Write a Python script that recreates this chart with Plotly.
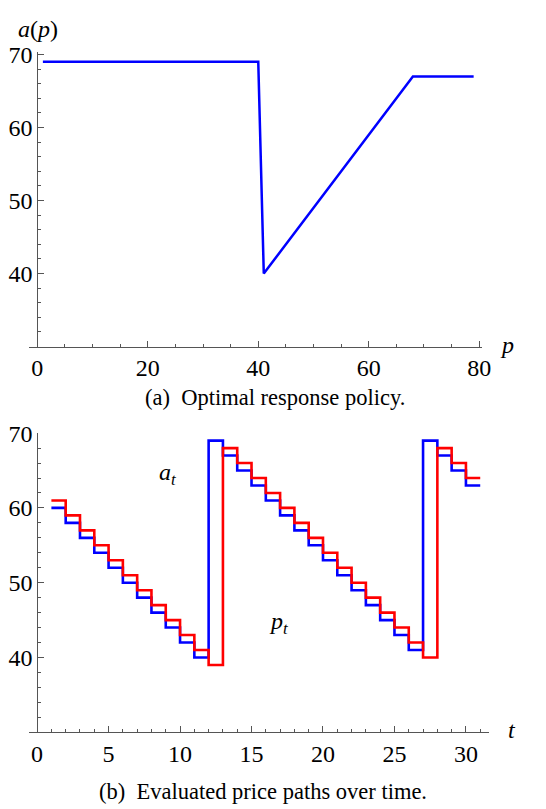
import plotly.graph_objects as go

# Panel (a): optimal response policy
p_vals = [1, 40, 41, 68, 79]
a_vals = [69, 69, 40, 67, 67]

# Panel (b): price paths over time (step functions, value held from t to t+1)
t_vals = list(range(1, 32))
a_t = [60, 58, 56, 54, 52, 50, 48, 46, 44, 42, 40, 69, 67, 65, 63, 61, 59, 57, 55, 53,
       51, 49, 47, 45, 43, 41, 69, 67, 65, 63, 63]
p_t = [61, 59, 57, 55, 53, 51, 49, 47, 45, 43, 41, 39, 68, 66, 64, 62, 60, 58, 56, 54,
       52, 50, 48, 46, 44, 42, 40, 68, 66, 64, 64]

xa_ticks = [0, 20, 40, 60, 80]
ya_ticks = [40, 50, 60, 70]
xb_ticks = [0, 5, 10, 15, 20, 25, 30]
yb_ticks = [40, 50, 60, 70]

W, H = 546, 809
FONT = "Liberation Serif, Times New Roman, serif"
AX = "#555555"

fig = go.Figure()
fig.add_trace(go.Scatter(x=p_vals, y=a_vals, mode="lines",
                         line=dict(color="#0000FF", width=2.5),
                         xaxis="x", yaxis="y", showlegend=False))
fig.add_trace(go.Scatter(x=t_vals, y=a_t, mode="lines", line_shape="hv",
                         line=dict(color="#0000FF", width=2.6),
                         xaxis="x2", yaxis="y2", showlegend=False))
fig.add_trace(go.Scatter(x=t_vals, y=p_t, mode="lines", line_shape="hv",
                         line=dict(color="#FF0000", width=2.6),
                         xaxis="x2", yaxis="y2", showlegend=False))

def px_x(px):
    return px / W

def px_y(py):
    return 1 - py / H

common_axis = dict(showline=True, linecolor=AX, linewidth=1, showgrid=False,
                   zeroline=False, ticks="inside", ticklen=6, tickcolor=AX,
                   tickfont=dict(family=FONT, size=24, color="black"), mirror=False)

fig.update_layout(
    width=W, height=H, margin=dict(l=0, r=0, t=0, b=0),
    paper_bgcolor="white", plot_bgcolor="white",
    xaxis=dict(domain=[px_x(29), px_x(490)], range=[-1.6, 80.5], anchor="y",
               tickvals=xa_ticks, minor=dict(dtick=5, tick0=0, ticks="inside", ticklen=3, tickcolor=AX),
               **common_axis),
    yaxis=dict(domain=[px_y(339), px_y(40)], range=[30, 70.3], anchor="free",
               position=px_x(38), tickvals=ya_ticks,
               minor=dict(dtick=2, tick0=0, ticks="inside", ticklen=3, tickcolor=AX),
               **common_axis),
    xaxis2=dict(domain=[px_x(29), px_x(497)], range=[-0.6, 31.6], anchor="y2",
                tickvals=xb_ticks, minor=dict(dtick=1, tick0=0, ticks="inside", ticklen=3, tickcolor=AX),
                **common_axis),
    yaxis2=dict(domain=[px_y(731), px_y(427)], range=[30, 70.0], anchor="free",
                position=px_x(38), tickvals=yb_ticks,
                minor=dict(dtick=2, tick0=0, ticks="inside", ticklen=3, tickcolor=AX),
                **common_axis),
)

ann_font = dict(family=FONT, size=24, color="black")

def ann(text, x, y, xref="paper", yref="paper", font=ann_font):
    fig.add_annotation(text=text, xref=xref, yref=yref, x=x, y=y, showarrow=False,
                       xanchor="center", yanchor="middle", font=font)

ann("<i>a</i>(<i>p</i>)", px_x(39), px_y(16))
ann("<i>p</i>", px_x(515), px_y(337))
ann("<i>t</i>", px_x(521), px_y(729))
ann("<i>a<sub>t</sub></i>", 9.1, 64.6, "x2", "y2")
ann("<i>p<sub>t</sub></i>", 16.9, 44.6, "x2", "y2")
cap_font = dict(family=FONT, size=22.5, color="black")
ann("(a)\u00a0 Optimal response policy.", px_x(280), px_y(391), font=cap_font)
ann("(b)\u00a0 Evaluated price paths over time.", px_x(267), px_y(791), font=cap_font)

fig.write_html("out.html", config={"displayModeBar": False},
               post_script="document.body.style.margin='0';document.body.style.overflow='hidden';")
